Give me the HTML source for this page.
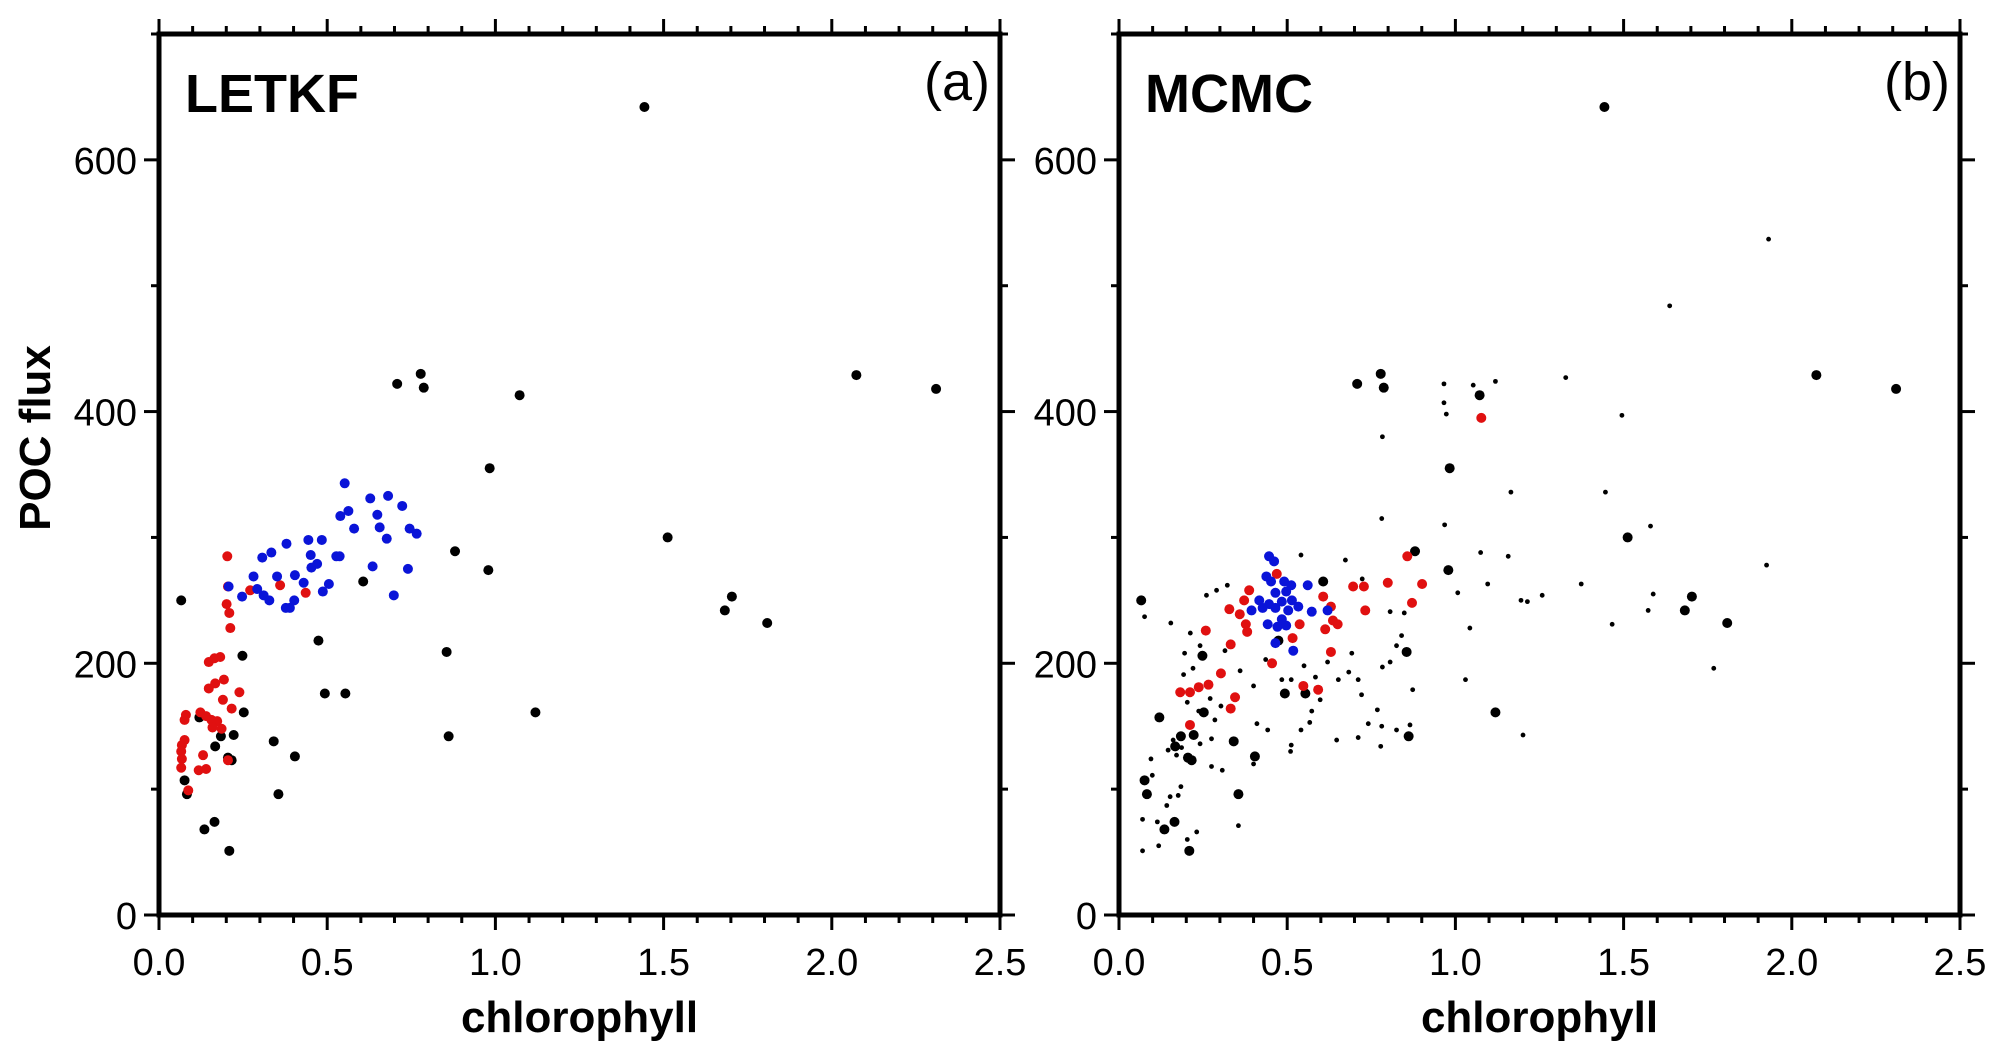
<!DOCTYPE html>
<html><head><meta charset="utf-8"><style>
html,body{margin:0;padding:0;background:#fff;}
svg{display:block;font-family:"Liberation Sans",Arial,sans-serif;}
</style></head><body>
<svg id="chart" width="2002" height="1055" viewBox="0 0 2002 1055"></svg>
<script>
const xTicksMajor=[0,0.5,1.0,1.5,2.0,2.5];
const xTickLabels=["0.0","0.5","1.0","1.5","2.0","2.5"];
const yTicksMajor=[0,200,400,600];
const yTickLabels=["0","200","400","600"];
const blackX=[1.443,0.066,0.708,0.778,0.787,1.072,2.073,2.310,0.983,1.512,0.880,0.979,0.607,1.703,1.682,1.808,0.474,0.855,0.248,0.493,0.554,1.119,0.252,0.120,0.861,0.184,0.222,0.341,0.167,0.404,0.205,0.216,0.076,0.083,0.355,0.165,0.135,0.209];
const blackY=[642,250,422,430,419,413,429,418,355,300,289,274,265,253,242,232,218,209,206,176,176,161,161,157,142,142,143,138,134,126,125,123,107,96,96,74,68,51];
const redAX=[0.203,0.205,0.201,0.209,0.212,0.271,0.360,0.436,0.148,0.165,0.182,0.167,0.148,0.193,0.190,0.239,0.216,0.080,0.076,0.123,0.140,0.156,0.173,0.159,0.186,0.076,0.068,0.066,0.068,0.066,0.131,0.118,0.140,0.205,0.087];
const redAY=[285,261,247,240,228,258,262,256,201,204,205,184,180,187,171,177,164,159,155,161,158,155,154,149,148,139,135,130,124,117,127,115,116,123,99];
const blueAX=[0.552,0.563,0.539,0.580,0.628,0.681,0.649,0.656,0.723,0.677,0.745,0.766,0.740,0.635,0.698,0.379,0.444,0.484,0.334,0.307,0.451,0.527,0.537,0.470,0.453,0.281,0.351,0.404,0.430,0.505,0.487,0.207,0.292,0.311,0.328,0.247,0.377,0.389,0.402];
const blueAY=[343,321,317,307,331,333,318,308,325,299,307,303,275,277,254,295,298,298,288,284,286,285,285,279,276,269,269,270,264,263,257,261,259,254,250,253,244,244,250];
const smallBX=[1.931,1.637,0.966,1.053,1.119,1.328,0.966,0.973,1.495,0.783,1.165,1.446,0.781,0.968,1.580,1.075,1.157,1.925,0.541,0.673,0.723,1.096,1.374,1.007,1.195,1.214,1.258,1.588,1.573,1.466,1.043,1.030,1.201,1.768,0.076,0.154,0.260,0.290,0.322,0.212,0.241,0.195,0.315,0.250,0.220,0.192,0.360,0.400,0.436,0.484,0.512,0.550,0.584,0.620,0.652,0.692,0.721,0.768,0.806,0.848,0.840,0.825,0.783,0.806,0.873,0.865,0.825,0.781,0.741,0.711,0.778,0.647,0.567,0.512,0.510,0.410,0.442,0.400,0.271,0.303,0.237,0.203,0.285,0.275,0.241,0.161,0.186,0.146,0.171,0.095,0.275,0.307,0.184,0.099,0.152,0.176,0.142,0.070,0.114,0.231,0.203,0.070,0.118,0.355,0.573,0.598,0.541,0.683,0.711];
const smallBY=[537,484,422,421,424,427,407,398,397,380,336,336,315,310,309,288,285,278,286,282,267,263,263,256,250,249,254,255,242,231,228,187,143,196,237,232,254,258,262,224,214,208,210,204,196,191,194,182,203,187,187,198,189,201,187,208,175,163,241,240,222,214,197,201,179,151,147,150,152,141,134,139,153,135,130,152,147,120,172,166,162,169,155,140,136,139,133,131,127,124,118,115,102,111,94,95,87,76,74,66,60,51,55,71,162,171,147,193,187];
const redBX=[1.077,0.857,0.901,0.799,0.696,0.728,0.732,0.871,0.469,0.387,0.372,0.328,0.359,0.377,0.381,0.258,0.332,0.303,0.266,0.237,0.211,0.182,0.345,0.332,0.211,0.455,0.516,0.537,0.607,0.630,0.636,0.650,0.613,0.630,0.548,0.592];
const redBY=[395,285,263,264,261,261,242,248,271,258,250,243,239,231,225,226,215,192,183,181,177,177,173,164,151,200,220,231,253,245,234,231,227,209,182,179];
const blueBX=[0.446,0.461,0.438,0.452,0.491,0.512,0.561,0.465,0.497,0.417,0.446,0.484,0.514,0.394,0.427,0.465,0.503,0.533,0.573,0.620,0.442,0.471,0.497,0.465,0.518,0.484];
const blueBY=[285,281,269,265,265,262,262,256,257,250,247,249,250,242,244,244,242,245,241,242,231,229,230,216,210,235];

const NS="http://www.w3.org/2000/svg";
const svgRoot=document.getElementById('chart');
function mk(tag,attrs,parent){const e=document.createElementNS(NS,tag);for(const k in attrs)e.setAttribute(k,attrs[k]);(parent||svgRoot).appendChild(e);return e;}
const plotTop=34,plotBot=915;
function yS(v){return plotBot-(v/700)*(plotBot-plotTop);}
function panel(left,right,title,letter,series,pname){
  const g=mk('g',{});
  
  
  const xS=v=>left+(v/2.5)*(right-left);
  for(let i=0;i<=25;i++){const v=i/10;const X=xS(v);const major=(i%5===0);const L=major?15:8;
    const t1=mk('line',{x1:X,y1:plotBot,x2:X,y2:plotBot+L,stroke:'#000','stroke-width':3},g);
    
    
    const t2=mk('line',{x1:X,y1:plotTop,x2:X,y2:plotTop-L,stroke:'#000','stroke-width':3},g);
    
    }
  for(let i=0;i<=7;i++){const v=i*100;const Y=yS(v);const major=(i%2===0);const L=major?15:8;
    const t1=mk('line',{x1:left,y1:Y,x2:left-L,y2:Y,stroke:'#000','stroke-width':3},g);
    
    
    const t2=mk('line',{x1:right,y1:Y,x2:right+L,y2:Y,stroke:'#000','stroke-width':3},g);
    
    }
  xTicksMajor.forEach((v,i)=>{const t=mk('text',{x:xS(v),y:975,'font-size':38,'text-anchor':'middle'},g);t.textContent=xTickLabels[i];
    
    });
  yTicksMajor.forEach((v,i)=>{const t=mk('text',{x:left-22,y:yS(v)+14,'font-size':38,'text-anchor':'end'},g);t.textContent=yTickLabels[i];
    
    });
  series.forEach(s=>{s.xs.forEach((xv,i)=>{const c=mk('circle',{cx:xS(xv),cy:yS(s.ys[i]),r:s.r,fill:s.color},g);
    
    });});
  const fr=mk('rect',{x:left,y:plotTop,width:right-left,height:plotBot-plotTop,fill:'none',stroke:'#000','stroke-width':5},g);
  
  
  const tt=mk('text',{x:left+26,y:112,'font-size':54,'font-weight':'bold'},g);tt.textContent=title;
  
  
  const lt=mk('text',{x:right-10,y:100,'font-size':54,'text-anchor':'end'},g);lt.textContent=letter;
  
  
  const xt=mk('text',{x:(left+right)/2,y:1032,'font-size':44,'font-weight':'bold','text-anchor':'middle'},g);xt.textContent='chlorophyll';
  
  
}
panel(159,1000,'LETKF','(a)',[
  {xs:blackX,ys:blackY,r:5,color:'#000',name:'black-point'},
  {xs:redAX,ys:redAY,r:5,color:'#e01010',name:'red-point'},
  {xs:blueAX,ys:blueAY,r:5,color:'#0a14d8',name:'blue-point'}],'panel-a');
panel(1119,1960,'MCMC','(b)',[
  {xs:smallBX,ys:smallBY,r:2.4,color:'#000',name:'small-black-point'},
  {xs:blackX,ys:blackY,r:5,color:'#000',name:'black-point'},
  {xs:redBX,ys:redBY,r:5,color:'#e01010',name:'red-point'},
  {xs:blueBX,ys:blueBY,r:5,color:'#0a14d8',name:'blue-point'}],'panel-b');
const yt=mk('text',{x:0,y:0,'font-size':44,'font-weight':'bold','text-anchor':'middle',transform:'translate(50,438) rotate(-90)'});
yt.textContent='POC flux';


</script>
</body></html>
